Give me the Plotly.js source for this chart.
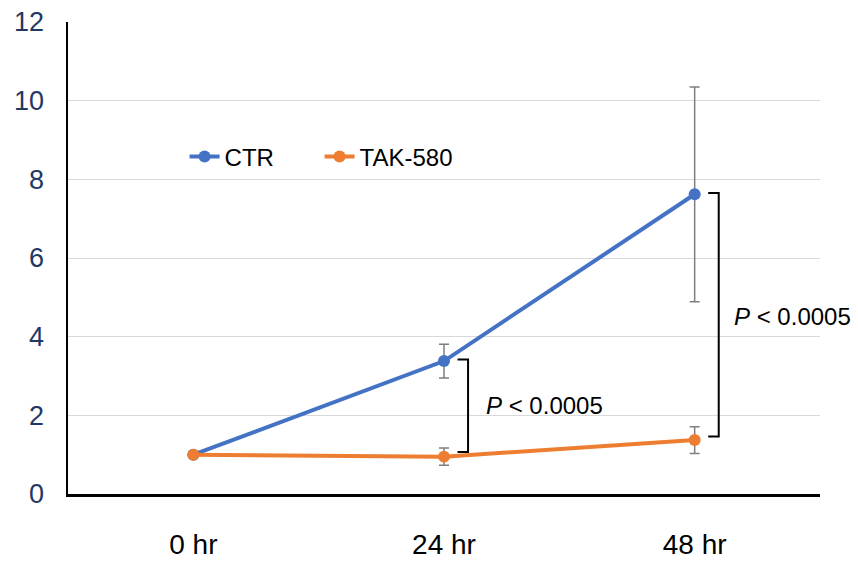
<!DOCTYPE html>
<html>
<head>
<meta charset="utf-8">
<script src="https://cdn.plot.ly/plotly-3.0.1.min.js"></script>
<style>html,body{margin:0;padding:0;background:#fff;}#chart{width:858px;height:561px;}</style>
</head>
<body>
<div id="chart"></div>
<script>
const categories = ["0 hr", "24 hr", "48 hr"];
const ctrValues = [1.0, 3.38, 7.62];
const ctrErrors = [null, 0.43, 2.73];
const takValues = [1.0, 0.95, 1.37];
const takErrors = [null, 0.22, 0.34];
const yTicks = [0, 2, 4, 6, 8, 10, 12];
const pLabel = "<i>P</i> < 0.0005";

const FONT = "Liberation Sans, Arial, sans-serif";

const traces = [
  {
    x: categories, y: ctrValues, name: "CTR", type: "scatter", mode: "lines+markers",
    line: {color: "#4472C4", width: 4},
    marker: {color: "#4472C4", size: 12},
    error_y: {type: "data", array: ctrErrors, visible: true, color: "#7F7F7F", thickness: 1.5, width: 5}
  },
  {
    x: categories, y: takValues, name: "TAK-580", type: "scatter", mode: "lines+markers",
    line: {color: "#ED7D31", width: 4},
    marker: {color: "#ED7D31", size: 12},
    error_y: {type: "data", array: takErrors, visible: true, color: "#7F7F7F", thickness: 1.5, width: 5}
  }
];

function bracket(xi, yTop, yBot) {
  const x0 = xi + 0.054, x1 = xi + 0.096;
  return {
    type: "path", xref: "x", yref: "y",
    path: `M ${x0},${yTop} L ${x1},${yTop} L ${x1},${yBot} L ${x0},${yBot}`,
    line: {color: "#000000", width: 2}
  };
}

const layout = {
  width: 858, height: 561,
  margin: {l: 68, r: 38, t: 22, b: 67},
  paper_bgcolor: "#ffffff", plot_bgcolor: "#ffffff",
  font: {family: FONT, color: "#000000"},
  showlegend: true,
  legend: {
    orientation: "h", x: 0.155, y: 0.714, xanchor: "left", yanchor: "middle",
    font: {family: FONT, size: 24, color: "#000000"},
    entrywidth: 90, entrywidthmode: "pixels",
    bgcolor: "rgba(0,0,0,0)"
  },
  xaxis: {
    type: "category", range: [-0.5, 2.5],
    showgrid: false, zeroline: false,
    showline: true, linecolor: "#000000", linewidth: 2.5,
    ticks: "", ticklabelstandoff: 24,
    tickfont: {family: FONT, size: 28, color: "#000000"}
  },
  yaxis: {
    range: [0, 12], tickvals: yTicks, ticktext: yTicks.map(String),
    showgrid: true, gridcolor: "#D9D9D9", gridwidth: 1,
    zeroline: false,
    showline: true, linecolor: "#000000", linewidth: 2.5,
    ticks: "", ticklabelstandoff: 16,
    tickfont: {family: FONT, size: 27, color: "#1F3864"}
  },
  shapes: [
    bracket(1, 3.42, 1.07),
    bracket(2, 7.65, 1.46)
  ],
  annotations: [
    {x: 1.16, y: 2.24, xref: "x", yref: "y", text: pLabel, showarrow: false,
     xanchor: "left", yanchor: "middle", font: {family: FONT, size: 24, color: "#000000"}},
    {x: 2.15, y: 4.51, xref: "x", yref: "y", text: pLabel, showarrow: false,
     xanchor: "left", yanchor: "middle", font: {family: FONT, size: 24, color: "#000000"}}
  ]
};

Plotly.newPlot("chart", traces, layout, {displayModeBar: false, staticPlot: true});
</script>
</body>
</html>
